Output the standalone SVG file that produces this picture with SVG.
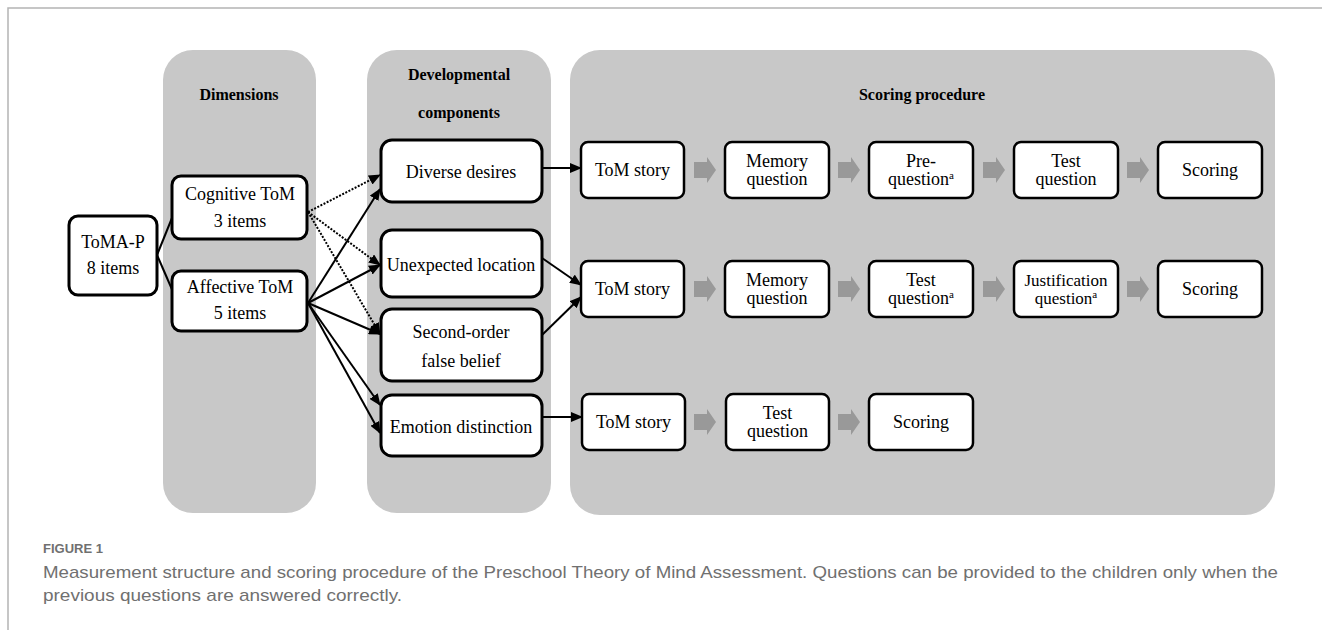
<svg xmlns="http://www.w3.org/2000/svg" width="1322" height="630" viewBox="0 0 1322 630">
<style>
.panel{fill:#c8c8c8}
.box{fill:#fff;stroke:#000;stroke-width:2.5}
.lbox{fill:#fff;stroke:#000;stroke-width:3}
.t{font-family:"Liberation Serif","Times New Roman",serif;font-size:18px;fill:#000;text-anchor:middle}
.h{font-family:"Liberation Serif","Times New Roman",serif;font-size:16px;font-weight:bold;fill:#000;text-anchor:middle}
.sup{font-size:11px}
.solid{fill:none;stroke:#000;stroke-width:2}
.dot{fill:none;stroke:#000;stroke-width:2;stroke-dasharray:2 1.5}
.cap{font-family:"Liberation Sans",Arial,sans-serif;fill:#707070}
.garrow{fill:#999}
</style>
<defs>
<marker id="ah" markerWidth="12" markerHeight="10" refX="11" refY="5" orient="auto" markerUnits="userSpaceOnUse">
<path d="M0,0 L12,5 L0,10 Z" fill="#000"/>
</marker>
<path id="ga" d="M0,-8 H13 V-13 L22,0 L13,13 V8 H0 Z"/>
</defs>
<rect width="1322" height="630" fill="#fff"/>
<path d="M8,630 V8 H1322" fill="none" stroke="#b4b4b4" stroke-width="1.5"/>

<g id="panels">
<rect class="panel" x="163" y="50" width="153" height="463" rx="30"/>
<rect class="panel" x="367" y="50" width="184" height="463" rx="30"/>
<rect class="panel" x="570" y="50" width="705" height="465" rx="30"/>
<text class="h" x="239" y="100">Dimensions</text>
<text class="h" x="459" y="80">Developmental</text>
<text class="h" x="459" y="118">components</text>
<text class="h" x="922" y="100">Scoring procedure</text>
</g>

<g id="connectors">
<line class="solid" x1="157" y1="255" x2="174" y2="213"/>
<line class="solid" x1="157" y1="255" x2="174" y2="294"/>
<line class="dot" x1="308" y1="212" x2="380" y2="175" marker-end="url(#ah)"/>
<line class="dot" x1="308" y1="212" x2="380" y2="265" marker-end="url(#ah)"/>
<line class="dot" x1="308" y1="212" x2="380" y2="334" marker-end="url(#ah)"/>
<line class="solid" x1="308" y1="303" x2="380" y2="189" marker-end="url(#ah)"/>
<line class="solid" x1="308" y1="303" x2="380" y2="265" marker-end="url(#ah)"/>
<line class="solid" x1="308" y1="303" x2="380" y2="334" marker-end="url(#ah)"/>
<line class="solid" x1="308" y1="303" x2="380" y2="405" marker-end="url(#ah)"/>
<line class="solid" x1="308" y1="303" x2="380" y2="433" marker-end="url(#ah)"/>
<line class="solid" x1="542" y1="168" x2="581" y2="168" marker-end="url(#ah)"/>
<line class="solid" x1="542" y1="258" x2="581" y2="285" marker-end="url(#ah)"/>
<line class="solid" x1="542" y1="335" x2="581" y2="297" marker-end="url(#ah)"/>
<line class="solid" x1="542" y1="417" x2="582" y2="417" marker-end="url(#ah)"/>
<g class="garrow">
<use href="#ga" x="694" y="170"/><use href="#ga" x="838" y="170"/><use href="#ga" x="983" y="170"/><use href="#ga" x="1127" y="170"/>
<use href="#ga" x="694" y="289"/><use href="#ga" x="838" y="289"/><use href="#ga" x="983" y="289"/><use href="#ga" x="1127" y="289"/>
<use href="#ga" x="694" y="422"/><use href="#ga" x="838" y="422"/>
</g>
</g>

<g id="n-tomap"><rect class="lbox" x="69" y="216" width="88" height="79" rx="9"/>
<text class="t" x="113" y="248">ToMA-P</text><text class="t" x="113" y="274">8 items</text></g>
<g id="n-cog"><rect class="lbox" x="172" y="176" width="135" height="63" rx="9"/>
<text class="t" x="240" y="200">Cognitive ToM</text><text class="t" x="240" y="227">3 items</text></g>
<g id="n-aff"><rect class="lbox" x="172" y="271" width="135" height="60" rx="9"/>
<text class="t" x="240" y="293">Affective ToM</text><text class="t" x="240" y="319">5 items</text></g>

<g id="n-diverse"><rect class="lbox" x="381" y="140" width="161" height="62" rx="11"/>
<text class="t" x="461" y="178">Diverse desires</text></g>
<g id="n-unexp"><rect class="lbox" x="381" y="230" width="161" height="67" rx="11"/>
<text class="t" x="461" y="271">Unexpected location</text></g>
<g id="n-second"><rect class="lbox" x="381" y="309" width="161" height="72" rx="11"/>
<text class="t" x="461" y="338">Second-order</text><text class="t" x="461" y="367">false belief</text></g>
<g id="n-emotion"><rect class="lbox" x="381" y="395" width="161" height="61" rx="11"/>
<text class="t" x="461" y="433">Emotion distinction</text></g>

<g id="r1-story"><rect class="box" x="581" y="142" width="103" height="56" rx="7"/><text class="t" x="632.5" y="176">ToM story</text></g>
<g id="r1-memory"><rect class="box" x="725" y="142" width="104" height="56" rx="7"/><text class="t" x="777" y="167">Memory</text><text class="t" x="777" y="185">question</text></g>
<g id="r1-pre"><rect class="box" x="869" y="142" width="104" height="56" rx="7"/><text class="t" x="921" y="167">Pre-</text><text class="t" x="921" y="185">question<tspan class="sup" dy="-6">a</tspan></text></g>
<g id="r1-test"><rect class="box" x="1014" y="142" width="104" height="56" rx="7"/><text class="t" x="1066" y="167">Test</text><text class="t" x="1066" y="185">question</text></g>
<g id="r1-scoring"><rect class="box" x="1158" y="142" width="104" height="56" rx="7"/><text class="t" x="1210" y="176">Scoring</text></g>

<g id="r2-story"><rect class="box" x="581" y="261" width="103" height="56" rx="7"/><text class="t" x="632.5" y="295">ToM story</text></g>
<g id="r2-memory"><rect class="box" x="725" y="261" width="104" height="56" rx="7"/><text class="t" x="777" y="286">Memory</text><text class="t" x="777" y="304">question</text></g>
<g id="r2-test"><rect class="box" x="869" y="261" width="104" height="56" rx="7"/><text class="t" x="921" y="286">Test</text><text class="t" x="921" y="304">question<tspan class="sup" dy="-6">a</tspan></text></g>
<g id="r2-just"><rect class="box" x="1014" y="261" width="104" height="56" rx="7"/><text class="t" x="1066" y="286" style="font-size:17px">Justification</text><text class="t" x="1066" y="304" style="font-size:17px">question<tspan class="sup" dy="-6">a</tspan></text></g>
<g id="r2-scoring"><rect class="box" x="1158" y="261" width="104" height="56" rx="7"/><text class="t" x="1210" y="295">Scoring</text></g>

<g id="r3-story"><rect class="box" x="582" y="394" width="103" height="56" rx="7"/><text class="t" x="633.5" y="428">ToM story</text></g>
<g id="r3-test"><rect class="box" x="726" y="394" width="103" height="56" rx="7"/><text class="t" x="777.5" y="419">Test</text><text class="t" x="777.5" y="437">question</text></g>
<g id="r3-scoring"><rect class="box" x="869" y="394" width="104" height="56" rx="7"/><text class="t" x="921" y="428">Scoring</text></g>

<g id="caption">
<text class="cap" x="43" y="553" font-size="13" font-weight="bold" fill="#777">FIGURE 1</text>
<text class="cap" x="43" y="578" font-size="17" textLength="1235" lengthAdjust="spacingAndGlyphs">Measurement structure and scoring procedure of the Preschool Theory of Mind Assessment. Questions can be provided to the children only when the</text>
<text class="cap" x="43" y="601" font-size="17" textLength="359" lengthAdjust="spacingAndGlyphs">previous questions are answered correctly.</text>
</g>
</svg>
